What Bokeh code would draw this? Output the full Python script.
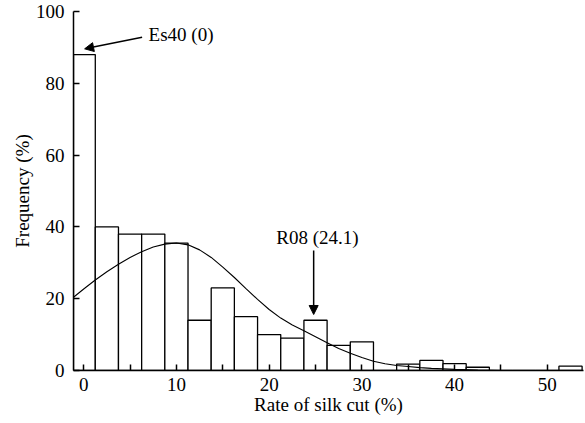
from bokeh.plotting import figure
from bokeh.models import Range1d, FixedTicker, Label, Arrow, NormalHead, ColumnDataSource
from bokeh.embed import file_html
from bokeh.resources import INLINE

# Histogram bins (centre of each 2.5 %-wide bin) and frequencies (%)
bin_centers = [0, 2.5, 5, 7.5, 10, 12.5, 15, 17.5, 20, 22.5, 25, 27.5, 30, 32.5,
               35, 37.5, 40, 42.5, 45, 47.5, 50, 52.5]
frequencies = [88, 40, 38, 38, 35.5, 14, 23, 15, 10, 9, 14, 7, 8, 0,
               1.8, 2.8, 1.9, 0.9, 0, 0, 0, 1.2]
bin_width = 2.5

# Fitted distribution curve
curve_x = [-1.1, 0, 1.25, 2.5, 3.75, 5, 6.25, 7.5, 8.75, 10, 11.25, 12.5, 13.75, 15,
           16.25, 17.5, 18.75, 20, 21.25, 22.5, 23.75, 25, 26.25, 27.5, 28.75, 30,
           31.25, 32.5, 33.75, 35, 36.25, 37.5, 40, 42.5, 45]
curve_y = [20.4, 22.7, 25.2, 27.5, 29.6, 31.5, 33.1, 34.4, 35.2, 35.5, 35.0, 33.6, 31.5, 28.8,
           25.9, 22.8, 19.8, 17.0, 14.6, 12.7, 11.1, 9.4, 7.7, 6.1, 4.8, 3.6,
           2.6, 1.9, 1.4, 1.1, 0.8, 0.6, 0.3, 0.1, 0.0]

x_ticks = [0, 5, 10, 15, 20, 25, 30, 35, 40, 45, 50]
x_tick_labels = {0: "0", 5: "", 10: "10", 15: "", 20: "20", 25: "", 30: "30",
                 35: "", 40: "40", 45: "", 50: "50"}
y_ticks = [0, 20, 40, 60, 80, 100]

ann1_text, ann1_x, ann1_y = "Es40 (0)", 7.0, 93.6
ann1_arrow = (6.3, 92.8, 0.1, 89.6)
ann2_text, ann2_x, ann2_y = "R08 (24.1)", 25.2, 37.1
ann2_arrow = (24.8, 33.4, 24.8, 15.6)

FONT = "Liberation Serif"
FS = "19px"

p = figure(width=585, height=423, output_backend="svg", toolbar_location=None,
           x_range=Range1d(-1.1, 53.9), y_range=Range1d(0, 100),
           min_border_left=73, min_border_right=2, min_border_top=11, min_border_bottom=53)
p.outline_line_color = None
p.xgrid.visible = False
p.ygrid.visible = False
p.background_fill_color = "white"
p.border_fill_color = "white"

src = ColumnDataSource(dict(x=bin_centers, top=frequencies))
p.vbar(x="x", top="top", width=bin_width, source=src, fill_color="white",
       line_color="black", line_width=1.3)
p.line(curve_x, curve_y, line_color="black", line_width=1.1)

for ax in (p.xaxis[0], p.yaxis[0]):
    ax.axis_line_color = "black"
    ax.axis_line_width = 1.5
    ax.major_tick_line_color = "black"
    ax.major_tick_line_width = 1.5
    ax.major_tick_in = 6
    ax.major_tick_out = 0
    ax.minor_tick_line_color = None
    ax.major_label_text_font = FONT
    ax.major_label_text_font_size = FS
    ax.major_label_text_color = "black"
    ax.axis_label_text_font = FONT
    ax.axis_label_text_font_size = FS
    ax.axis_label_text_font_style = "normal"
    ax.axis_label_text_color = "black"

p.xaxis.ticker = FixedTicker(ticks=x_ticks)
p.xaxis.major_label_overrides = x_tick_labels
p.yaxis.ticker = FixedTicker(ticks=y_ticks)
p.xaxis.axis_label = "Rate of silk cut (%)"
p.yaxis.axis_label = "Frequency (%)"
p.xaxis.major_label_standoff = 7
p.xaxis.axis_label_standoff = 0
p.yaxis.major_label_standoff = 9
p.yaxis.axis_label_standoff = 0

for txt, tx, ty in ((ann1_text, ann1_x, ann1_y), (ann2_text, ann2_x, ann2_y)):
    align = "left" if txt == ann1_text else "center"
    p.add_layout(Label(x=tx, y=ty, text=txt, text_font=FONT, text_font_size=FS,
                       text_color="black", text_align=align, text_baseline="middle"))

for (xs, ys, xe, ye) in (ann1_arrow, ann2_arrow):
    p.add_layout(Arrow(end=NormalHead(size=9, fill_color="black", line_color="black"),
                       x_start=xs, y_start=ys, x_end=xe, y_end=ye,
                       line_color="black", line_width=1.5))

open("out.html", "w").write(file_html(p, INLINE))
